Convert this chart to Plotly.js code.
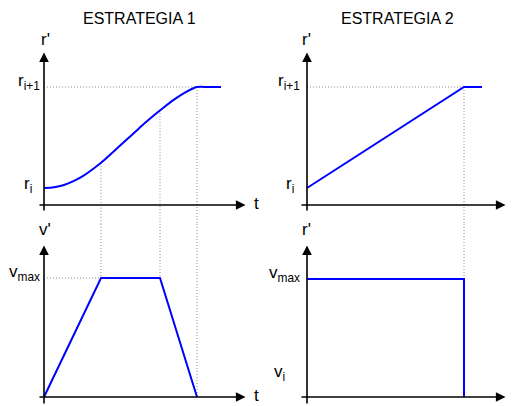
<!DOCTYPE html>
<html>
<head>
<meta charset="utf-8">
<script src="https://cdn.plot.ly/plotly-3.0.1.min.js"></script>
<style>
  html, body { margin: 0; padding: 0; background: #fff; }
  #chart { width: 513px; height: 406px; }
</style>
</head>
<body>
<div id="chart"></div>
<script>
// ---- profile data (t in arbitrary time units, r and v normalised) ----
// Strategy 1: S-shaped reference r'(t)
const s1Time = [0, 1, 2, 3, 4, 5, 6, 7, 8, 9, 10, 11, 12, 13, 14, 15, 15.3, 16.5, 17.7];
const s1Pos  = [0, 0.008, 0.03, 0.07, 0.125, 0.195, 0.275, 0.365, 0.455, 0.545, 0.635,
                0.72, 0.80, 0.875, 0.94, 0.99, 1.0, 1.0, 1.0];
// Strategy 1: trapezoidal speed v'(t)
const s1VelTime = [0, 5.7, 11.6, 15.3];
const s1Vel     = [0, 1, 1, 0];
// Strategy 2: linear ramp r'(t)
const s2Time = [0, 15.7, 17.5];
const s2Pos  = [0, 1, 1];
// Strategy 2: constant speed, then stop
const s2VelTime = [0, 15.7, 15.7];
const s2Vel     = [1, 1, 0];
// phase-change instants and the reference value reached there
const s1GuideTime = [5.7, 11.6, 15.3];
const s1GuidePos  = [0.25, 0.77, 1.0];
const s2GuideTime = [15.7];
const s2GuidePos  = [1.0];

// ---- text ----
const panelTitles   = ['ESTRATEGIA 1', 'ESTRATEGIA 2'];
const posTickVals   = [0, 1];
const posTickText   = ['r<sub>i</sub>', 'r<sub>i+1</sub>'];
const s1VelTickVals = [1];
const s1VelTickText = ['v<sub>max</sub>'];
const s2VelTickVals = [1, 0.2];
const s2VelTickText = ['v<sub>max</sub>', 'v<sub>i</sub>'];
const yNames = ["r'", "r'", "v'", "r'"];
const xName  = 't';

// ---- page geometry ----
const W = 513, H = 406;
const FONT = 'Liberation Sans, Arial, sans-serif';
const BLUE = '#0000ff';
const GUIDE = { color: '#8c8c8c', width: 1, dash: '1px,2px' };

// a panel: pixel box, pixel origin and pixel scale of each axis
function frame(left, right, top, bottom, ox, oy, sx, sy) {
  return {
    xdomain: [left / W, right / W],
    ydomain: [1 - bottom / H, 1 - top / H],
    xrange: [(left - ox) / sx, (right - ox) / sx],
    yrange: [(oy - bottom) / sy, (oy - top) / sy],
    tx: px => (px - ox) / sx,
    ty: py => (oy - py) / sy
  };
}
const F = [
  frame(0, 260, 30, 224, 44, 188, 10, 101),
  frame(260, 513, 30, 224, 307, 188, 10, 101),
  frame(0, 260, 224, 406, 44, 397, 10, 119),
  frame(260, 513, 224, 406, 307, 397, 10, 118)
];
const ax = ['x', 'x2', 'x3', 'x4'];
const ay = ['y', 'y2', 'y3', 'y4'];

const line = { color: BLUE, width: 2 };
const traces = [
  { x: s1Time, y: s1Pos, xaxis: 'x', yaxis: 'y', mode: 'lines',
    line: Object.assign({ shape: 'spline', smoothing: 0.8 }, line) },
  { x: s2Time, y: s2Pos, xaxis: 'x2', yaxis: 'y2', mode: 'lines', line },
  { x: s1VelTime, y: s1Vel, xaxis: 'x3', yaxis: 'y3', mode: 'lines', line },
  { x: s2VelTime, y: s2Vel, xaxis: 'x4', yaxis: 'y4', mode: 'lines', line }
];

// ---- dotted guides ----
const shapes = [];
function guide(i, x0, y0, x1, y1) {
  shapes.push({ type: 'line', layer: 'below', xref: ax[i], yref: ay[i],
                x0, y0, x1, y1, line: GUIDE });
}
// strategy 1
guide(0, 0, 1, s1GuideTime[s1GuideTime.length - 1], 1);
guide(2, 0, 1, s1VelTime[1], 1);
s1GuideTime.forEach((t, k) => {
  guide(0, t, s1GuidePos[k], t, F[0].yrange[0]);
  const v = s1Vel[s1VelTime.indexOf(t)];
  guide(2, t, F[2].yrange[1], t, v);
});
// strategy 2
guide(1, 0, 1, s2GuideTime[0], 1);
s2GuideTime.forEach((t, k) => {
  guide(1, t, s2GuidePos[k], t, F[1].yrange[0]);
  guide(3, t, F[3].yrange[1], t, 1);
});

// ---- axes drawn as arrows ----
const annotations = [];
const HEAD = 2.5; // tip of the arrowhead sits past the line end
function arrow(i, x0px, y0px, x1px, y1px) {
  const f = F[i];
  const dx = Math.sign(x1px - x0px) * HEAD, dy = Math.sign(y1px - y0px) * HEAD;
  annotations.push({
    xref: ax[i], yref: ay[i], axref: ax[i], ayref: ay[i],
    x: f.tx(x1px - dx), y: f.ty(y1px - dy), ax: f.tx(x0px), ay: f.ty(y0px),
    text: '', showarrow: true, arrowhead: 2, arrowsize: 1.2, arrowwidth: 1.6,
    arrowcolor: '#000'
  });
}
arrow(0, 38, 205, 248, 205); arrow(0, 44, 212, 44, 50);
arrow(1, 300, 205, 508, 205); arrow(1, 307, 212, 307, 50);
arrow(2, 38, 397, 248, 397); arrow(2, 44, 405, 44, 243);
arrow(3, 300, 397, 508, 397); arrow(3, 307, 405, 307, 243);

// ---- text ----
function paperText(text, px, py, size) {
  annotations.push({ xref: 'paper', yref: 'paper', x: px / W, y: 1 - py / H,
    xanchor: 'center', yanchor: 'middle', text, showarrow: false,
    font: { family: FONT, size, color: '#000' } });
}
function levelText(i, text, rightPx, value, yshift) {
  annotations.push({ xref: ax[i], yref: ay[i], x: F[i].tx(rightPx), y: value,
    xanchor: 'right', yanchor: 'middle', yshift, text, showarrow: false,
    font: { family: FONT, size: 17, color: '#000' } });
}
paperText(panelTitles[0], 139, 18, 16);
paperText(panelTitles[1], 397, 18, 16);
paperText(yNames[0], 45, 39, 17);
paperText(yNames[1], 306, 39, 17);
paperText(yNames[2], 45, 229, 17);
paperText(yNames[3], 306, 229, 17);
paperText(xName, 256, 203, 17);
paperText(xName, 256, 395, 17);

levelText(0, posTickText[0], 34, posTickVals[0], 2.6);
levelText(0, posTickText[1], 42, posTickVals[1], 4.6);
levelText(1, posTickText[0], 296, posTickVals[0], 2.6);
levelText(1, posTickText[1], 302, posTickVals[1], 4.6);
levelText(2, s1VelTickText[0], 42, s1VelTickVals[0], 4.6);
levelText(3, s2VelTickText[0], 302, s2VelTickVals[0], 4.6);
levelText(3, s2VelTickText[1], 287, s2VelTickVals[1], 0);

// ---- layout ----
const layout = {
  width: W, height: H,
  margin: { l: 0, r: 0, t: 0, b: 0 },
  paper_bgcolor: '#fff', plot_bgcolor: 'rgba(0,0,0,0)',
  showlegend: false,
  font: { family: FONT, color: '#000' },
  shapes, annotations
};
F.forEach((f, i) => {
  const xn = i === 0 ? 'xaxis' : 'xaxis' + (i + 1);
  const yn = i === 0 ? 'yaxis' : 'yaxis' + (i + 1);
  layout[xn] = { domain: f.xdomain, range: f.xrange, anchor: ay[i], visible: false, fixedrange: true };
  layout[yn] = { domain: f.ydomain, range: f.yrange, anchor: ax[i], visible: false, fixedrange: true };
});

Plotly.newPlot('chart', traces, layout, { staticPlot: true, displayModeBar: false });
</script>
</body>
</html>
